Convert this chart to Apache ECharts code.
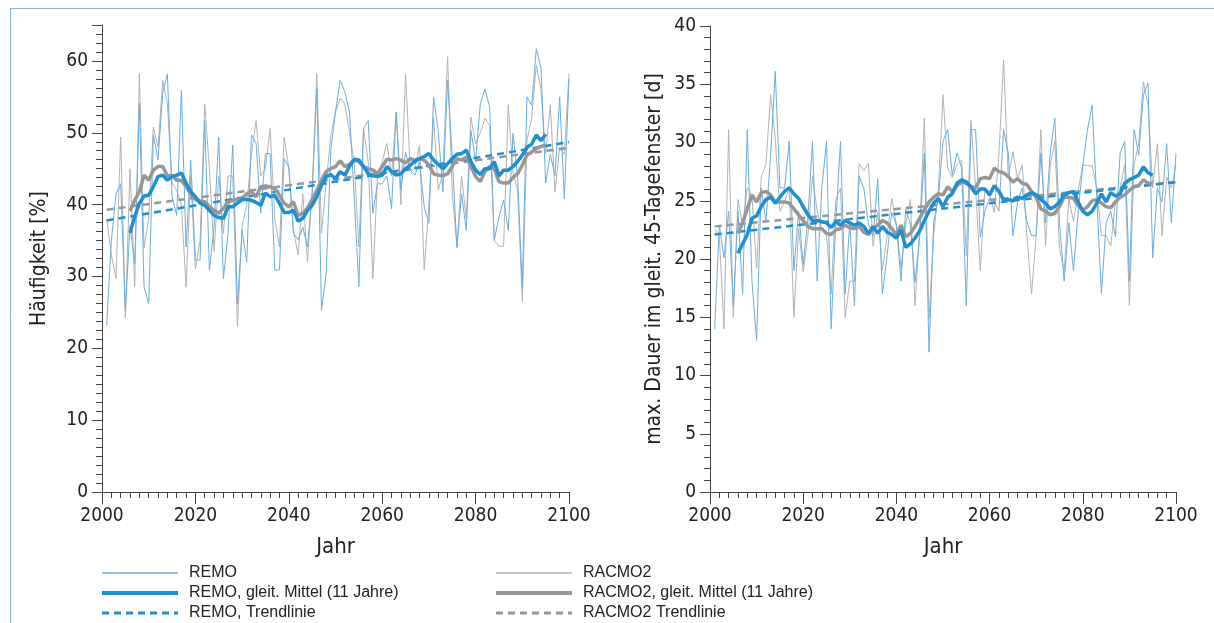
<!DOCTYPE html>
<html>
<head>
<meta charset="utf-8">
<title>REMO / RACMO2</title>
<script src="https://cdn.jsdelivr.net/npm/echarts@6/dist/echarts.min.js"></script>
<style>
html, body { margin: 0; padding: 0; background: #fff; }
#chart { width: 1214px; height: 623px; }
</style>
</head>
<body>
<div id="chart"></div>
<script>
// Jahreswerte ab 2001, gleitendes Mittel ab 2006
var rawStart = 2001;
var meanStart = 2006;
var trendYears = [2001, 2100];

// links: Häufigkeit [%]
var remoFreq = [
    23.2, 35, 41.5, 42.9, 25.3, 37.1, 31.8, 54.1, 28.6, 26.2,
    49.7, 46.2, 55.5, 58.2, 41.1, 38.5, 55.9, 34.1, 46.2, 32.3,
    32.3, 51.7, 30.9, 36.9, 49.4, 29.7, 36, 48.3, 26.2, 36.4,
    32, 49.7, 48.5, 38.8, 47.1, 47.1, 30.9, 30.9, 46.4, 45.2,
    36, 35.1, 36.9, 34.1, 41.5, 56.1, 25.3, 30.4, 47.6, 52.9,
    57.3, 55.7, 52.9, 41.1, 28.6, 50.6, 51.7, 38.8, 42.9, 42.9,
    44, 39.4, 52.9, 42, 47.3, 44.8, 44.1, 46, 39.7, 37.4,
    55, 50.3, 41.8, 57.3, 46.6, 34, 41.5, 36.4, 50.3, 46,
    54, 56.1, 53.6, 35, 38.3, 40.6, 36.4, 49.9, 43.8, 28.5,
    55, 53.8, 61.7, 59, 43, 47, 44, 55, 40.8, 57.5
];
var racmoFreq = [
    38, 33, 29.7, 49.4, 24.2, 45, 28.6, 58.2, 34, 38,
    50.8, 48, 57.3, 54, 43, 42, 40, 28.5, 44, 31,
    35, 54, 45, 33.5, 44, 36, 44, 44, 23, 37,
    40, 47, 51.7, 44, 45, 50.6, 38, 34.1, 49.4, 45,
    36.5, 33, 41.5, 32, 42, 58.2, 36, 43, 49.6, 52.9,
    54.8, 54, 50, 46, 34.1, 50.6, 46, 29.7, 44, 46,
    48.5, 44, 52.9, 40, 58.2, 44.8, 45, 48.3, 30.9, 40,
    52.2, 42, 44.4, 60.6, 41.6, 34.2, 44, 38, 52.2, 48.5,
    50, 52, 51, 35, 34.2, 34.2, 53.9, 44.4, 42, 26.5,
    49, 52, 59.4, 56, 47.1, 53.9, 41.8, 48, 47, 58.2
];
var remoFreqMean = [
    36.1, 38.3, 40.2, 41.2, 41.3, 42.5, 43.9, 44.1, 43.4, 43.9,
    44.1, 44.4, 43, 41.8, 41.1, 40.2, 39.9, 39.2, 38.5, 38.2,
    38.1, 39.7, 39.7, 40.2, 40.7, 40.7, 40.6, 40.3, 39.9, 41.6,
    41.1, 41.3, 40.2, 38.9, 38.9, 39.2, 37.7, 38.1, 39.2, 39.9,
    41.1, 42.7, 43.9, 44.2, 43.6, 44.6, 44.1, 45.3, 46.3, 46.2,
    45.3, 44.3, 44, 43.9, 44.1, 45.3, 44.6, 44.1, 44.3, 45,
    45.5, 46, 46.4, 46.7, 47.1, 46.2, 45.6, 45, 45.7, 46.4,
    47, 47.1, 47.6, 46, 44.8, 44.2, 45, 45, 46, 44,
    44.8, 44.8, 45.3, 46, 46.9, 48, 48.4, 49.7, 48.9, 49.8
];
var racmoFreqMean = [
    39.1, 40.6, 41.8, 44.1, 43.4, 44.8, 45.3, 45.3, 44, 44.1,
    43.4, 43.4, 42.5, 41.5, 40.7, 40.5, 40.4, 39.7, 39.2, 38.8,
    39.5, 40.4, 40.6, 40.7, 40.9, 41.5, 41.8, 41.1, 42.5, 42.6,
    42.5, 42.2, 41.3, 40.2, 39.7, 40.4, 38.5, 38.8, 39.5, 40.7,
    42, 43.4, 44.6, 45, 45.3, 46.1, 45.3, 45.6, 46.2, 46,
    45.3, 45, 44.8, 44.3, 45.3, 46.3, 46.2, 46.4, 46.2, 45.8,
    46.4, 46.2, 46.4, 46.2, 45.5, 44.3, 44.1, 44, 44.3, 45.3,
    46.4, 46.2, 46.6, 45.3, 43.9, 43.2, 44.6, 45.3, 45, 43.2,
    43, 43, 43.8, 44.3, 45.5, 46.9, 47.3, 47.8, 48.1, 48.3
];
var remoFreqTrend = [37.8, 48.7];
var racmoFreqTrend = [39.3, 47.9];

// rechts: max. Dauer im gleit. 45-Tagefenster [d]
var remoDur = [
    14, 22.9, 20.1, 24.1, 16, 24.1, 17, 31.1, 18.1, 13,
    26.1, 23.2, 28.9, 36.1, 26.1, 26.1, 30.1, 19, 24.1, 19.5,
    23.5, 30.1, 18.1, 26.1, 30.1, 14, 23.2, 30.1, 17, 23.2,
    16, 27.1, 26.1, 23, 22, 26.9, 17, 20.3, 24, 22.9,
    18.1, 24.3, 23, 18, 21.9, 29.1, 12, 23.2, 25.2, 30.1,
    31.1, 27.2, 29.1, 27.8, 16, 31.1, 31.1, 21.9, 24.1, 25.2,
    24.9, 24.1, 31.1, 29.1, 22, 24.9, 26.1, 23.2, 22, 22,
    29.1, 23.1, 29.1, 32.1, 23.1, 18.1, 23.1, 19, 24, 28,
    31.1, 33.2, 25.2, 17, 23.1, 24.1, 21.9, 29.1, 30.1, 18.1,
    31.1, 28.9, 34.1, 35.1, 20.1, 26.1, 24.9, 29.9, 23.1, 29.1
];
var racmoDur = [
    22.6, 22, 14, 31.1, 15, 25.1, 22.9, 26.1, 25.5, 19.2,
    27.1, 28.1, 34.1, 30.4, 24.1, 24.9, 26.1, 15, 22.6, 18.9,
    22, 27.1, 24.1, 22.6, 22, 17, 25.1, 26.1, 15, 18.1,
    18.1, 28.2, 27.6, 28.2, 21.1, 24, 19, 22, 25.2, 23,
    19.2, 23, 25.1, 16, 22.5, 32.1, 14.9, 22, 26, 34.1,
    27.8, 27, 28.1, 28.5, 20.3, 31.9, 26.1, 19, 26.1, 25.5,
    24, 28.9, 37.1, 27, 29.2, 26.9, 28.1, 22, 17, 22,
    31.1, 21.1, 28, 30.1, 20.9, 18.9, 25.2, 23.2, 25.8, 28.1,
    28, 28, 26.1, 22, 22, 21.1, 24.9, 26.1, 28.1, 16,
    28.1, 29.9, 35.2, 33.2, 26.1, 29.9, 22, 27, 26.1, 28.1
];
var remoDurMean = [
    20.5, 21.3, 22.1, 23.5, 23.7, 24.5, 25.1, 25.3, 24.8, 25.3,
    25.8, 26.1, 25.6, 25.2, 24.5, 23.8, 23.3, 23.3, 23.2, 23.1,
    22.7, 23.2, 22.9, 23.3, 23.1, 22.9, 23.1, 22.8, 22.2, 22.8,
    22.2, 22.8, 22.3, 22.1, 21.8, 22.5, 21, 21.3, 21.8, 22.4,
    23.3, 24.1, 24.8, 25.2, 24.5, 25.3, 25.6, 26.5, 26.8, 26.6,
    26.2, 25.6, 26, 26, 25.5, 26.3, 25.8, 25.1, 25.1, 25,
    25.3, 25.2, 25.5, 25.7, 25.5, 25.1, 24.8, 24.3, 24.5, 24.9,
    25.5, 25.7, 25.8, 24.9, 24.1, 23.8, 24.1, 24.8, 25.6, 24.9,
    25.7, 25.4, 25.6, 26.5, 26.8, 27, 27.2, 27.9, 27.4, 27.2
];
var racmoDurMean = [
    22.2, 23.1, 24.3, 25.5, 24.9, 25.7, 25.8, 25.5, 24.9, 24.9,
    24.9, 24.8, 24.3, 23.8, 23.3, 22.8, 22.6, 22.6, 22.6, 22.2,
    22.1, 22.5, 22.6, 22.9, 22.7, 22.6, 22.8, 22.3, 22.1, 22.6,
    22.9, 23.3, 23.1, 22.6, 22.1, 22.9, 21.9, 22.2, 22.8, 23.5,
    24.2, 24.9, 25.3, 25.6, 25.5, 26.2, 25.8, 26.3, 26.6, 26.5,
    26.2, 26.1, 26.9, 27, 26.9, 27.8, 27.5, 27.4, 27.1, 26.6,
    26.9, 26.5, 26.4, 25.8, 25.3, 24.3, 24.1, 23.8, 23.9, 24.5,
    25.3, 25.3, 25.2, 24.6, 24.2, 24.5, 25, 25.1, 24.8, 24.5,
    24.4, 24.9, 25.3, 25.5, 25.9, 26.2, 26.3, 26.8, 26.5, 26.5
];
var remoDurTrend = [22.1, 26.6];
var racmoDurTrend = [22.8, 26.6];

var blueThin = '#6aaee2';
var blueThick = '#1f8fd0';
var grayThin = '#b3b3b3';
var grayThick = '#979797';
var axisColor = '#444';
var narrow = "'Liberation Sans Narrow', 'DejaVu Sans Condensed', 'Roboto', sans-serif";

function pairs(start, values) {
    return values.map(function (v, i) { return [start + i, v]; });
}
function trendPairs(values) {
    return [[trendYears[0], values[0]], [trendYears[1], values[1]]];
}

function lineSeries(name, idx, data, color, width, dashed, z) {
    return {
        name: name,
        type: 'line',
        xAxisIndex: idx,
        yAxisIndex: idx,
        data: data,
        symbol: 'none',
        z: z,
        lineStyle: { color: color, width: width, type: dashed ? [7, 5] : 'solid' },
        itemStyle: { color: color }
    };
}

function xAxis(idx) {
    return {
        type: 'value', gridIndex: idx, min: 2000, max: 2100, interval: 20,
        name: 'Jahr', nameLocation: 'middle', nameGap: 44,
        nameTextStyle: { fontFamily: narrow, fontSize: 22, color: '#222' },
        axisLine: { lineStyle: { color: axisColor, width: 1 } },
        axisTick: { show: true, length: 12, lineStyle: { color: axisColor } },
        minorTick: { show: true, splitNumber: 10, length: 6, lineStyle: { color: axisColor } },
        axisLabel: {
            fontFamily: narrow, fontSize: 19, color: '#222', margin: 15,
            formatter: function (v) { return String(v); }
        },
        splitLine: { show: false }
    };
}

function yAxis(idx, max, interval, minorSplit, name, gap) {
    return {
        type: 'value', gridIndex: idx, min: 0, max: max, interval: interval,
        name: name, nameLocation: 'middle', nameGap: gap,
        nameTextStyle: { fontFamily: narrow, fontSize: 21, color: '#222' },
        axisLine: { show: true, lineStyle: { color: axisColor, width: 1 } },
        axisTick: { show: true, length: 10, lineStyle: { color: axisColor } },
        minorTick: { show: true, splitNumber: minorSplit, length: 6, lineStyle: { color: axisColor } },
        axisLabel: { fontFamily: narrow, fontSize: 19, color: '#222', margin: 14, showMaxLabel: max % interval === 0 },
        splitLine: { show: false }
    };
}

// Legendeneinträge mit eigener Linienstärke
function legendItem(name, width) {
    return { name: name, lineStyle: { width: width } };
}

var chart = echarts.init(document.getElementById('chart'));

var legendText = { fontFamily: "'Liberation Sans', Arial, sans-serif", fontSize: 16, color: '#222', padding: [0, 0, 0, 6] };
var noSymbol = { color: 'rgba(0,0,0,0)', borderWidth: 0, opacity: 0 };

var option = {
    animation: false,
    backgroundColor: '#fff',
    grid: [
        { left: 102, top: 25, width: 467, height: 467 },
        { left: 710, top: 26, width: 466, height: 466 }
    ],
    xAxis: [xAxis(0), xAxis(1)],
    yAxis: [
        yAxis(0, 65, 10, 8, 'Häufigkeit [%]', 52),
        yAxis(1, 40, 5, 5, 'max. Dauer im gleit. 45-Tagefenster [d]', 45)
    ],
    legend: [
        {
            orient: 'vertical', left: 100, top: 565, padding: 0,
            itemWidth: 76, itemHeight: 14, itemGap: 4,
            itemStyle: noSymbol,
            textStyle: legendText,
            data: [
                legendItem('REMO', 1.5),
                legendItem('REMO, gleit. Mittel (11 Jahre)', 4),
                legendItem('REMO, Trendlinie', 3)
            ]
        },
        {
            orient: 'vertical', left: 494, top: 565, padding: 0,
            itemWidth: 76, itemHeight: 14, itemGap: 4,
            itemStyle: noSymbol,
            textStyle: legendText,
            data: [
                legendItem('RACMO2', 1.5),
                legendItem('RACMO2, gleit. Mittel (11 Jahre)', 4),
                legendItem('RACMO2 Trendlinie', 3)
            ]
        }
    ],
    graphic: [
        { type: 'line', shape: { x1: 10, y1: 8.5, x2: 1214, y2: 8.5 }, style: { stroke: '#8fb4cb', lineWidth: 1 } },
        { type: 'line', shape: { x1: 10.5, y1: 8, x2: 10.5, y2: 623 }, style: { stroke: '#8fb4cb', lineWidth: 1 } }
    ],
    series: [
        lineSeries('RACMO2', 0, pairs(rawStart, racmoFreq), grayThin, 1, false, 1),
        lineSeries('REMO', 0, pairs(rawStart, remoFreq), blueThin, 1, false, 2),
        lineSeries('RACMO2 Trendlinie', 0, trendPairs(racmoFreqTrend), grayThick, 2.5, true, 3),
        lineSeries('REMO, Trendlinie', 0, trendPairs(remoFreqTrend), blueThick, 2.5, true, 4),
        lineSeries('RACMO2, gleit. Mittel (11 Jahre)', 0, pairs(meanStart, racmoFreqMean), grayThick, 3.5, false, 5),
        lineSeries('REMO, gleit. Mittel (11 Jahre)', 0, pairs(meanStart, remoFreqMean), blueThick, 3.5, false, 6),

        lineSeries('RACMO2', 1, pairs(rawStart, racmoDur), grayThin, 1, false, 1),
        lineSeries('REMO', 1, pairs(rawStart, remoDur), blueThin, 1, false, 2),
        lineSeries('RACMO2 Trendlinie', 1, trendPairs(racmoDurTrend), grayThick, 2.5, true, 3),
        lineSeries('REMO, Trendlinie', 1, trendPairs(remoDurTrend), blueThick, 2.5, true, 4),
        lineSeries('RACMO2, gleit. Mittel (11 Jahre)', 1, pairs(meanStart, racmoDurMean), grayThick, 3.5, false, 5),
        lineSeries('REMO, gleit. Mittel (11 Jahre)', 1, pairs(meanStart, remoDurMean), blueThick, 3.5, false, 6)
    ]
};

chart.setOption(option, true);
</script>
</body>
</html>
